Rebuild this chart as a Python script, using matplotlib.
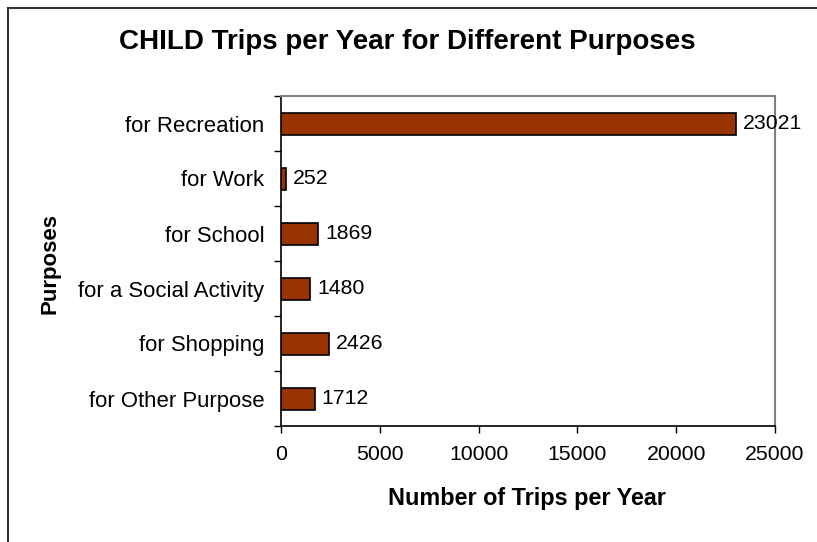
import matplotlib
matplotlib.use("Agg")
import matplotlib.pyplot as plt
from matplotlib.patches import Rectangle

categories = ["for Recreation", "for Work", "for School", "for a Social Activity",
              "for Shopping", "for Other Purpose"]
values = [23021, 252, 1869, 1480, 2426, 1712]
xticks = [0, 5000, 10000, 15000, 20000, 25000]

plt.rcParams['font.family'] = ['Liberation Sans', 'DejaVu Sans']

W, H = 817, 542
FS = 15.3
fig = plt.figure(figsize=(W / 100, H / 100), dpi=100)
ax = fig.add_axes([281 / W, 1 - 426 / H, (775 - 281) / W, (426 - 96) / H])

# outer border (cut off at right and bottom)
fig.patches.append(Rectangle((8 / W, -0.1), 1.5, 1 - 8 / H + 0.1, transform=fig.transFigure,
                             fill=False, edgecolor='#333333', linewidth=1.5))

ypos = list(range(len(categories)))
ax.barh(ypos, values, height=0.4, color='#993300', edgecolor='black', linewidth=1.2, zorder=3)
for y, v in zip(ypos, values):
    ax.annotate(str(v), (v, y), xytext=(5, 0), textcoords='offset points',
                va='center', ha='left', fontsize=FS, color='black', zorder=5)

ax.set_xlim(0, 25000)
ax.set_ylim(len(categories) - 0.5, -0.5)
ax.set_xticks(xticks)
ax.set_xticklabels([str(t) for t in xticks], fontsize=FS)
ax.set_yticks(ypos)
ax.set_yticklabels(categories, fontsize=15.9)
ax.tick_params(axis='y', which='major', length=0, pad=12)
ax.set_yticks([i + 0.5 for i in range(-1, len(categories))], minor=True)
ax.tick_params(axis='y', which='minor', length=5, width=1, direction='out', color='black')
ax.tick_params(axis='x', which='major', length=5, width=1, direction='out', pad=9)

for s in ['top', 'right']:
    ax.spines[s].set_color('#808080')
    ax.spines[s].set_linewidth(1.5)
for s in ['left', 'bottom']:
    ax.spines[s].set_color('black')
    ax.spines[s].set_linewidth(1.2)

fig.text(527 / W, 1 - 499 / H, "Number of Trips per Year", fontsize=16.8, fontweight='bold',
         ha='center', va='center')
fig.text(50 / W, 1 - 263 / H, "Purposes", rotation=90, fontsize=16, fontweight='bold',
         ha='center', va='center')
fig.text(407 / W, 1 - 42 / H, "CHILD Trips per Year for Different Purposes",
         fontsize=20, fontweight='bold', ha='center', va='center')

fig.savefig("out.png", dpi=100)
